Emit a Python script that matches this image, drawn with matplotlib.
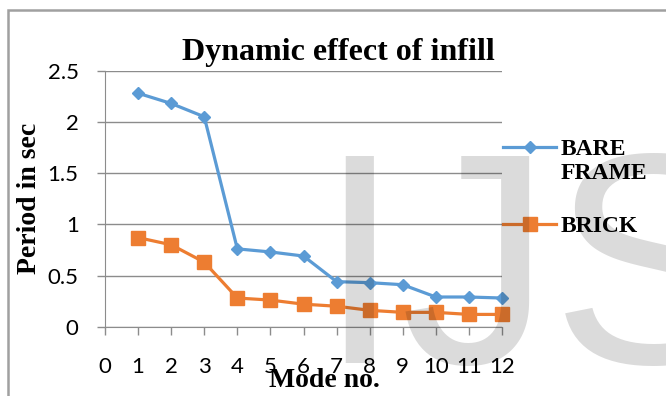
import matplotlib
matplotlib.use("Agg")
import matplotlib.pyplot as plt
from matplotlib.lines import Line2D
from matplotlib.patches import Rectangle

# ---- data ----
modes = [1, 2, 3, 4, 5, 6, 7, 8, 9, 10, 11, 12]
bare_frame = [2.28, 2.18, 2.05, 0.76, 0.73, 0.69, 0.44, 0.43, 0.41, 0.29, 0.29, 0.28]
brick = [0.87, 0.80, 0.63, 0.28, 0.26, 0.22, 0.20, 0.16, 0.14, 0.14, 0.12, 0.12]
x_ticks = list(range(0, 13))
y_ticks = [0, 0.5, 1, 1.5, 2, 2.5]
y_tick_labels = ["0", "0.5", "1", "1.5", "2", "2.5"]

BLUE = "#5B9BD5"
ORANGE = "#ED7D31"
GRID = "#8c8c8c"
W, H = 666, 396

fig = plt.figure(figsize=(W / 100, H / 100), dpi=100)

# outer chart border
fig.add_artist(Rectangle((8 / W, -0.1), 1.2, (H - 10) / H + 0.1, transform=fig.transFigure,
                         fill=False, edgecolor="#a0a0a0", linewidth=1.8))

ax = fig.add_axes([105 / W, 69.3 / H, 397 / W, 256 / H])
ax.plot(modes, bare_frame, color=BLUE, lw=2.3, marker="D", ms=6.5, zorder=3, clip_on=False)
ax.plot(modes, brick, color=ORANGE, lw=2.3, marker="s", ms=9.5, zorder=3, clip_on=False)

ax.set_xlim(0, 12)
ax.set_ylim(0, 2.5)
ax.set_xticks(x_ticks)
ax.set_yticks(y_ticks)
ax.set_yticklabels(y_tick_labels)
ax.grid(axis="y", color=GRID, lw=1)
ax.set_axisbelow(True)
for s in ["top", "right"]:
    ax.spines[s].set_visible(False)
for s in ["left", "bottom"]:
    ax.spines[s].set_color(GRID)
ax.tick_params(axis="both", direction="out", length=6, width=1, color=GRID,
               labelsize=16, labelcolor="black")
ax.tick_params(axis="x", pad=16)
ax.tick_params(axis="y", pad=13)
for lbl in ax.get_xticklabels() + ax.get_yticklabels():
    lbl.set_family("Lato")

serif = "Liberation Serif"
fig.text(338 / W, (H - 60) / H, "Dynamic effect of infill", family=serif, weight="bold",
         size=23, ha="center", va="baseline")
fig.text(30 / W, (H - 198) / H, "Period in sec", family=serif, weight="bold",
         size=20, rotation=90, ha="center", va="center")
fig.text(324 / W, (H - 387) / H, "Mode no.", family=serif, weight="bold",
         size=20, ha="center", va="baseline")

# legend entries
for y, col, mk, ms, label in [(146.7, BLUE, "D", 6.5, "BARE\nFRAME"),
                              (224, ORANGE, "s", 9.5, "BRICK")]:
    fig.add_artist(Line2D([503 / W, 529.5 / W, 556 / W], [(H - y) / H] * 3, color=col, lw=2.3,
                          marker=mk, ms=ms, markevery=[1], transform=fig.transFigure))
    fig.text(561 / W, (H - y) / H + 8 / H, label, family=serif, weight="bold", size=17,
             ha="left", va="top", linespacing=1.2)

# background watermark
fig.text(317 / W, (H - 363) / H, "IJS", family="Liberation Sans", size=217,
         color="black", alpha=0.14, ha="left", va="baseline", zorder=10)

fig.savefig("out.png", dpi=100)
